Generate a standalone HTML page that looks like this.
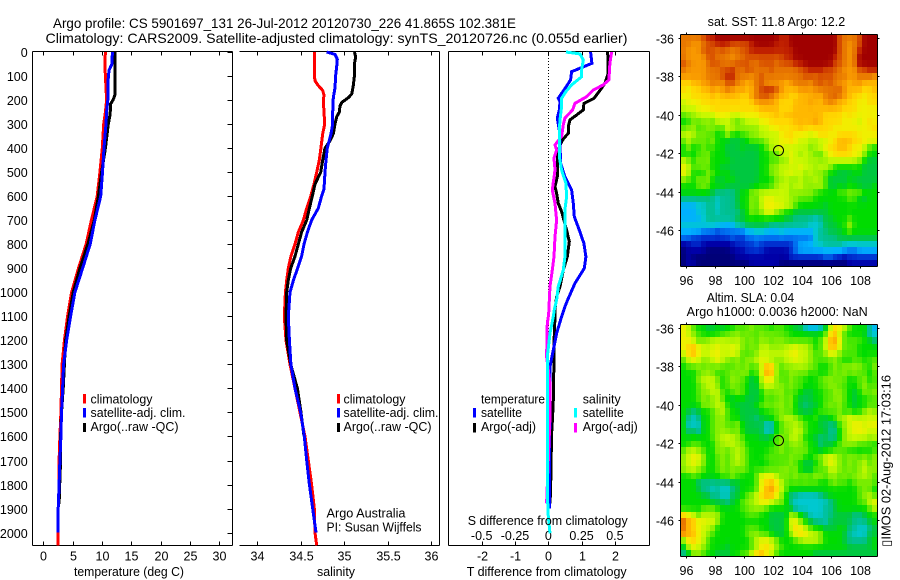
<!DOCTYPE html>
<html lang="en">
<head>
<meta charset="utf-8">
<title>Argo profile</title>
<style>
html,body{margin:0;padding:0;background:#fff;width:900px;height:580px;overflow:hidden}
svg{display:block}
text{font-family:"Liberation Sans",sans-serif;font-size:12.5px;fill:#000}
.title{font-size:14px}
</style>
</head>
<body>
<svg id="chart" width="900" height="580" viewBox="0 0 900 580" xmlns="http://www.w3.org/2000/svg">
<rect width="900" height="580" fill="#fff"/>
<text class="title" x="53" y="28" textLength="463" lengthAdjust="spacingAndGlyphs">Argo profile: CS 5901697_131 26-Jul-2012 20120730_226 41.865S 102.381E</text>
<text class="title" x="45.5" y="43" textLength="582" lengthAdjust="spacingAndGlyphs">Climatology: CARS2009. Satellite-adjusted climatology: synTS_20120726.nc (0.055d earlier)</text>
<g id="panels"></g>
<g id="maps"></g>

<text x="74" y="576" textLength="110" lengthAdjust="spacingAndGlyphs">temperature (deg C)</text>
<text x="317" y="576" textLength="38" lengthAdjust="spacingAndGlyphs">salinity</text>
<text x="466.7" y="576" textLength="160" lengthAdjust="spacingAndGlyphs">T difference from climatology</text>
<text x="467.7" y="525" textLength="160" lengthAdjust="spacingAndGlyphs">S difference from climatology</text>

<g>
<rect x="83" y="394" width="3" height="9.5" fill="#f00"/>
<rect x="83" y="408" width="3" height="9.5" fill="#00f"/>
<rect x="83" y="423" width="3" height="9" fill="#000"/>
<text x="90.5" y="403.5" textLength="62" lengthAdjust="spacingAndGlyphs">climatology</text>
<text x="90.5" y="417" textLength="95" lengthAdjust="spacingAndGlyphs">satellite-adj. clim.</text>
<text x="90.5" y="431" textLength="88" lengthAdjust="spacingAndGlyphs">Argo(..raw -QC)</text>
</g>
<g>
<rect x="337" y="394" width="3" height="9.5" fill="#f00"/>
<rect x="337" y="408" width="3" height="9.5" fill="#00f"/>
<rect x="337" y="423" width="3" height="9" fill="#000"/>
<text x="343.5" y="403.5" textLength="62" lengthAdjust="spacingAndGlyphs">climatology</text>
<text x="343.5" y="417" textLength="95" lengthAdjust="spacingAndGlyphs">satellite-adj. clim.</text>
<text x="343.5" y="431" textLength="88" lengthAdjust="spacingAndGlyphs">Argo(..raw -QC)</text>
</g>
<text x="326.5" y="517.7" textLength="79" lengthAdjust="spacingAndGlyphs">Argo Australia</text>
<text x="326.5" y="531.7" textLength="95" lengthAdjust="spacingAndGlyphs">PI: Susan Wijffels</text>

<text id="sst-title" x="707.7" y="26" textLength="137.5" lengthAdjust="spacingAndGlyphs">sat. SST: 11.8 Argo: 12.2</text>
<text x="706.7" y="302" textLength="87.5" lengthAdjust="spacingAndGlyphs">Altim. SLA: 0.04</text>
<text x="686.7" y="316" textLength="181" lengthAdjust="spacingAndGlyphs">Argo h1000: 0.0036 h2000: NaN</text>
<text transform="translate(890.7 546.7) rotate(-90)" textLength="171.7" lengthAdjust="spacingAndGlyphs" style="font-family:'Liberation Sans','DejaVu Sans',sans-serif">▯IMOS 02-Aug-2012 17:03:16</text>
</svg>

<script>
// ---------- Panel 1: temperature ----------
const climTDepth=[0,50,100,150,200,250,300,400,500,600,700,800,900,1000,1100,1200,1300,1400,1500,1600,1700,1800,1900,2000,2053];
const climT=[10.6,10.5,10.6,10.7,10.8,10.6,10.3,10.06,9.66,9.2,8.2,7.3,6.0,4.83,4.15,3.6,3.2,3.1,3.0,2.84,2.7,2.7,2.55,2.5,2.5];
const satTDepth=[0,50,75,100,150,200,250,300,400,500,600,700,800,900,1000,1100,1200,1300,1400,1500,1600,1700,1800,1900,2000];
const satT=[11.8,11.7,11.25,11.1,11.05,11,10.8,10.7,10.35,10.1,9.8,8.8,8,6.7,5.4,4.66,3.98,3.47,3.3,3.1,3,2.84,2.7,2.55,2.5];
const argoTDepth=[0,150,180,200,215,260,300,400,500,600,700,800,900,1000,1100,1200,1300,1400,1500,1600,1700,1800,1880];
const argoT=[12.2,12.27,12.2,11.9,11.5,11.4,11.1,10.6,9.95,9.4,8.7,7.6,6.25,5.1,4.4,3.8,3.6,3.4,3.1,2.95,2.95,2.8,2.7];

// ---------- Panel 2: salinity ----------
const climSDepth=[0,50,100,120,140,160,180,200,250,300,340,400,450,500,550,600,650,700,750,800,850,900,950,1000,1100,1200,1300,1400,1500,1600,1700,1800,1900,2000,2053];
const climS=[34.66,34.66,34.66,34.667,34.705,34.755,34.77,34.762,34.77,34.778,34.755,34.735,34.716,34.686,34.655,34.617,34.571,34.533,34.475,34.437,34.39,34.36,34.341,34.326,34.314,34.333,34.379,34.437,34.494,34.552,34.59,34.628,34.659,34.667,34.686];
const satSDepth=[0,10,30,60,100,150,190,250,300,340,400,450,500,570,600,650,700,750,800,850,900,950,1000,1100,1200,1300,1400,1500,1600,1700,1800,1900,2000];
const satS=[34.80,34.897,34.923,34.916,34.904,34.897,34.877,34.87,34.87,34.85,34.808,34.793,34.782,34.77,34.743,34.705,34.628,34.579,34.54,34.513,34.467,34.418,34.379,34.36,34.372,34.39,34.437,34.502,34.544,34.571,34.602,34.64,34.678];
const argoSDepth=[0,20,50,100,140,175,190,210,225,250,270,300,340,370,400,450,500,550,600,650,700,750,800,850,900,950,1000,1100,1200,1300,1400,1500,1600];
const argoS=[35.119,35.134,35.119,35.119,35.107,35.088,35.05,34.973,34.954,34.946,34.916,34.897,34.877,34.839,34.782,34.755,34.732,34.667,34.636,34.602,34.571,34.513,34.475,34.437,34.387,34.36,34.341,34.333,34.341,34.387,34.464,34.506,34.54];

// ---------- Panel 3: differences from climatology ----------
const diffSatTDepth=[0,47,82,116,158,192,206,241,275,324,387,463,519,574,630,685,741,796,852,900,963,1032,1060,1101,1171,1240,1309,1400,1500,1700,1900];
const diffSatT=[1.27,1.31,.70,.67,.47,.30,.35,.33,.27,.33,.35,.37,.50,.70,.75,.78,.93,1.07,1.13,1.08,.80,.58,.50,.40,.25,.15,.05,.05,.05,.03,.03];
const diffArgoTDepth=[0,47,89,130,151,193,214,241,262,283,311,338,366,387,429,463,519,560,588,630,664,741,789,852,907,976,1018,1073,1101,1171,1240,1309,1379,1448,1517,1587,1725,1823,1878];
const diffArgoT=[1.78,1.80,1.80,1.70,1.60,1.37,1.07,1.05,.85,.65,.60,.60,.43,.35,.27,.27,.27,.20,.25,.30,.40,.55,.63,.57,.45,.35,.25,.20,.20,.18,.17,.17,.15,.15,.13,.10,.08,.07,.05];
const diffArgoSDepth=[0,47,116,137,158,186,214,241,275,303,351,387,408,442,491,574,630,700,769,852,907,976,1032,1073,1101,1129,1268,1379,1517,1878];
const diffArgoS=[.475,.4625,.455,.4125,.3375,.2875,.2,.1825,.125,.1125,.1,.05,.0625,.0425,.05,.03,.05,.0625,.05,.0425,.03,.0125,.0075,.005,0,-.0075,-.0125,.0125,.0125,-.0125];
const diffSatSDepth=[0,8,33,75,103,137,165,193,227,283,324,387,435,491,546,602,657,741,852,907,976,1032,1073,1101,1171,1268,1448,1725,1864,1933,2003];
const diffSatS=[.1325,.2375,.2625,.25,.25,.175,.1325,.1,.1,.0875,.0825,.0825,.0825,.1,.1325,.1375,.125,.125,.125,.1125,.075,.0625,.045,.0375,.0125,-.0075,-.0075,-.0075,-.005,0,.0125];

// ---------- Tick labels ----------
const depthTicks=[0,100,200,300,400,500,600,700,800,900,1000,1100,1200,1300,1400,1500,1600,1700,1800,1900,2000];
const tempTicks=[0,5,10,15,20,25,30];
const salTicks=[34,34.5,35,35.5,36];
const diffTTicks=[-2,-1,0,1,2];
const diffSTicks=[-0.5,-0.25,0,0.25,0.5];
const lonTicks=[96,98,100,102,104,106,108];
const latTicks=[-36,-38,-40,-42,-44,-46];

// ---------- Maps: colour-level grids, north to south ----------
const profileLon=102.381;
const profileLat=-41.865;
const sstGrid=[
"gggghiijjjjjjjjjjjjjiijjjjjjjjjjhggghjjj",
"ggffghhiiihhhhijjjjiiijjjjjjjjjjjjhgfghjjj".slice(0,30)+"jjhgfghjjj",
"gfffhhhghggghhiiiiiiiiijjjjjjjjjhgfgijjj",
"gffffhhgggfgghhhhhhhhiijjjjjjjjihgfgjjjj",
"hgfffghhggghhhgghhhghhhiijjjjjjhhgfgjjjj",
"gffffggghhigghhggghggggghhiiihhhgfffhhii",
"fffffggghiigggfghgggggggghhghhhgggffgggf",
"ddeeffggfhhgfefghffffefgggfhhghgffeffeee",
"dcddeefefgfefeeghiihfeeeffffgggghfeeedde",
"ccddddedeeeeddfghhgfeeddeeefegghgfeddcdd",
"bcccdddddddddddffffedddeeefeefgfeeddccdd",
"bbbcccddddddddddeeeedddeeeeeeeeeedddcccc",
"9aabbbbcccbbccccdddedeeeeeeeeddddcdccccc",
"88a9aa9bbba9abbbccdddddeeeefeddddcccbcdc",
"9aa99aa99bbaaaaabbccdcddeddddddccccccccd",
"bbb9a9988b8899aabbbbcddcccbcddccddddcccc",
"9b9a99a8877778999abbccdcbbbabbcdeeeddccc",
"8a88a8988777877789bbcbbbbb9bbcddeedccb98",
"88899a88877777778899bbcbabb99bcddddcca88",
"ba8a9a88887777778899aacbbbabaabbbbbba877",
"cb99a9887777777788aabbbbcbbabba888888777",
"cb888a988877777788aabbcbbabaa98877788777",
"a98a9a8778877777888aabaabaaba97777877777",
"8889a98887777778889abbabbaaab97787887778",
"88888876666788aabbbbbbaaaaa9888899a9a888",
"66666665666788a9bccbbbaa9998888888997788",
"44455665666788a9bccccbb98888878888888888",
"44455665666678a9acca98877777778888888888",
"44445666666778888888877666656778889888 8".replace(" ","8"),
"55555555444667777766666666555777 88b88888".replace(" ","").slice(0,40),
"44443332333334455444544444456677789888 88".replace(" ","").slice(0,40),
"3322222222322333333333333335666677777777",
"1122111111122223222222234445566665555555",
"0111100000111222211111234444444444334444",
"0100000000011111111111222222233221222222",
"0110000000000011111100000000000000111111"
];
const slaGrid=[
"cb988778788999a9998998877544 57bdcb988864".replace(" ","").slice(0,40),
"cba9888899aa9a99a9a99988888889deb9888855",
"ccb9aabbbbaba9a9aa9aa99999989befc9999886",
"cdecbbbcbbcba9a9bbaaabbcbba89beec9998888",
"bdecbbccbbcb999abbbbbbccbba99acba9998888",
"9bcbaabcba9a9aabcbaaabbcbba9999a98899899",
"899a9a9a999a9a99beea9aaabaa9889a9aaaa98a",
"8889aaa899a9aa89bfea99aa9a89889a9a9a9989",
"888abbba89aa9877bcca99a998889aa9a9889a89",
"8889abba89a99877abbaa9a9988899aa99889a99",
"8889aabb989a98778a9aa9998778899aa9878a9a",
"8889a9ab987887778999a9a87778899aa9878899",
"8888aaabb88777789a9aa9a8767789a9a9878899",
"8767889ab98877778899a99877789999a8988aba",
"8656889aa98877767889abba98897789abcbbbbb",
"8555889aa99a877775589aaba98877669abccbcc",
"8675889aaa9a877775589aabb98887668abcccbb",
"8888889abbba98887789a9bba88767668abbbbab",
"8899888aabbaa8888889a9aaa98867789aaa9998",
"9bba988aa9aba9888899a99a9a88788999888889",
"abcca889a9aba988899999a9a889abcba9aa9a9a",
"abcba889a9aba988889999a987789bcba9a9ab9a",
"abba9889a9a9a9898999aa9a877999bba9a9abaa",
"8899888899a98889cccb9a9a9a9aa9aa9a9aaba9",
"8886666666778889cdecb9999999889a9989a9a9",
"8887665655678889cefdb9888888888888889a98",
"88887766557789abdeeca8665555678888889ab9".slice(0,40),
"8888887776789aabccbaa86555555567888899bc",
"888899a8888899aaa9888875555556678888889b",
"dcb9bbab88888999887777ba8755566777766788",
"heeccbca88888888887778cca876657777766678",
"gedcbba888888999887778bdcb98877788665567",
"geecba98888889aa998778acdcbba88887655577",
"9ddcb9888888889bccba8889abbba88887666678",
"7bcba9888788889acdca98888888888888777778",
"67aa9887778899bdecb988888887777777777777"
];
const levelColors=["#000078","#0000a8","#0030d0","#0070f0","#00b0ff","#00c8d0","#00c090","#00c840","#00dc00","#50e800","#90f000","#c8f800","#f0f000","#ffd800","#ffb800","#f89800","#e87800","#d85000","#c02000","#a00000"];
const levelKeys="0123456789abcdefghij";

// ---------- Axis functions ----------
function yDepth(d){return 52+0.2403*d;}
function xTemp(v){return 43.3+5.86*v;}
function xSal(v){return 257+87*(v-34);}
function xDiffT(v){return 548.3+33.3*v;}
function xDiffS(v){return 548.3+133.2*v;}
function xLon(l){return 686+14.5*(l-96);}
function yLat(l,top){return top+3+19.27*(-36-l);}

const NS="http://www.w3.org/2000/svg";
const panels=document.getElementById("panels");
const maps=document.getElementById("maps");

function mk(parent,tag,attrs){
  const el=document.createElementNS(NS,tag);
  for(const k in attrs){el.setAttribute(k,attrs[k]);}
  parent.appendChild(el);
  return el;
}
function line(parent,x1,y1,x2,y2){
  const el=mk(parent,"line",{x1:x1,y1:y1,x2:x2,y2:y2,stroke:"#000","stroke-width":1,"shape-rendering":"crispEdges"});
  
  
  return el;
}
function label(parent,x,y,str,anchor){
  const el=mk(parent,"text",{x:x,y:y,"text-anchor":anchor});
  el.textContent=str;
  
  
  return el;
}
function series(parent,depths,values,xf,color){
  const pts=depths.map(function(d,i){return xf(values[i]).toFixed(1)+","+yDepth(d).toFixed(1);}).join(" ");
  const el=mk(parent,"polyline",{points:pts,fill:"none",stroke:color,"stroke-width":3,"shape-rendering":"crispEdges","stroke-linejoin":"miter"});
  
  
  return el;
}

const L1=32.5,R1=232.5,L2=239.5,R2=439.5,L3=448.5,R3=649.5,TOP=51.5,BOT=545.5;

// Panel frames
line(panels,L1,TOP,R1,TOP);
line(panels,L1,BOT,R1,BOT);
line(panels,L1,TOP,L1,BOT);
line(panels,R1,TOP,R1,BOT);
line(panels,L2,TOP,R2,TOP);
line(panels,L2,BOT,R2,BOT);
line(panels,R2,TOP,R2,BOT);
line(panels,L3,TOP,R3,TOP);
line(panels,L3,BOT,R3,BOT);
line(panels,L3,TOP,L3,BOT);
line(panels,R3,TOP,R3,BOT);

// Depth ticks and labels
depthTicks.forEach(function(d){
  const y=Math.round(yDepth(d))+0.5;
  line(panels,R1-5,y,R1,y);
  label(panels,27.7,y+4.5,String(d),"end");
});

// X ticks
function xTicks(arr,xf,fmt,ly){
  arr.forEach(function(v){
    const x=Math.round(xf(v))+0.5;
    line(panels,x,TOP,x,TOP+4);
    line(panels,x,BOT-4,x,BOT);
    label(panels,x,ly,fmt(v),"middle");
  });
}
xTicks(tempTicks,xTemp,String,560.7);
xTicks(salTicks,xSal,String,560.7);
xTicks(diffTTicks,xDiffT,String,560.7);
diffSTicks.forEach(function(v){
  label(panels,xDiffS(v),540,String(v),"middle");
});

// Zero reference line
const zeroLine=mk(panels,"line",{x1:548.5,y1:52,x2:548.5,y2:yDepth(1370),stroke:"#000","stroke-width":1,"stroke-dasharray":"1 2","shape-rendering":"crispEdges"});



// Series
series(panels,climTDepth,climT,xTemp,"#f00");
series(panels,argoTDepth,argoT,xTemp,"#000");
series(panels,satTDepth,satT,xTemp,"#00f");
series(panels,climSDepth,climS,xSal,"#f00");
series(panels,argoSDepth,argoS,xSal,"#000");
series(panels,satSDepth,satS,xSal,"#00f");
series(panels,diffArgoTDepth,diffArgoT,xDiffT,"#000");
series(panels,diffSatTDepth,diffSatT,xDiffT,"#00f");
series(panels,diffArgoSDepth,diffArgoS,xDiffS,"#f0f");
series(panels,diffSatSDepth,diffSatS,xDiffS,"#0ff");

// Diff legend
function legendSwatch(x,y,color){
  const el=mk(panels,"rect",{x:x,y:y,width:3,height:9.5,fill:color});
  
  
}
function legendText(x,y,str,w){
  const el=mk(panels,"text",{x:x,y:y,textLength:w,lengthAdjust:"spacingAndGlyphs"});
  el.textContent=str;
  
  
}
legendText(481,403.5,"temperature",64);
legendText(481,417,"satellite",41);
legendText(481,431,"Argo(-adj)",55);
legendText(582.7,403.5,"salinity",38);
legendText(582.7,417,"satellite",41);
legendText(582.7,431,"Argo(-adj)",55);
legendSwatch(473,408,"#00f");
legendSwatch(473,423,"#000");
legendSwatch(574,408,"#0ff");
legendSwatch(574,423,"#f0f");

// Maps
function levelAt(grid,r,c){
  const rr=Math.max(0,Math.min(grid.length-1,r));
  const row=grid[rr];
  const cc=Math.max(0,Math.min(row.length-1,c));
  return levelKeys.indexOf(row[cc]);
}
function smoothLevel(grid,r,c){
  return (4*levelAt(grid,r,c)+levelAt(grid,r-1,c)+levelAt(grid,r+1,c)+levelAt(grid,r,c-1)+levelAt(grid,r,c+1))/8;
}
function levelColor(v){
  const i=Math.min(levelColors.length-2,Math.floor(v));
  const t=v-i;
  const a=parseInt(levelColors[i].slice(1),16);
  const b=parseInt(levelColors[i+1].slice(1),16);
  const ch=function(s){return Math.round(((a>>s)&255)*(1-t)+((b>>s)&255)*t);};
  return "rgb("+ch(16)+","+ch(8)+","+ch(0)+")";
}
function drawMap(grid,top,bottom){
  const g=mk(maps,"g",{});
  
  
  const left=680.5,right=877.5;
  const lonMin=95.66,lonMax=109.14;
  const latN=-35.84,latS=-47.9;
  const dLon=(lonMax-lonMin)/40;
  const dLat=(latN-latS)/grid.length;
  grid.forEach(function(row,r){
    for(let c=0;c<40;c++){
      const x0=Math.round(xLon(lonMin+c*dLon));
      const x1=Math.round(xLon(lonMin+(c+1)*dLon));
      const y0=Math.round(yLat(latN-r*dLat,top));
      const y1=Math.round(yLat(latN-(r+1)*dLat,top));
      const cell=mk(g,"rect",{x:x0,y:y0,width:x1-x0,height:y1-y0,fill:levelColor(smoothLevel(grid,r,c)),"shape-rendering":"crispEdges"});
      
      
    }
  });
  line(g,left,top,right,top);
  line(g,left,bottom,right,bottom);
  line(g,left,top,left,bottom);
  line(g,right,top,right,bottom);
  lonTicks.forEach(function(v){
    const x=Math.round(xLon(v))+0.5;
    line(g,x,top-2,x,top);
    line(g,x,bottom,x,bottom+2);
    label(g,x,bottom+18.5,String(v),"middle");
  });
  latTicks.forEach(function(v){
    const y=Math.round(yLat(v,top))+0.5;
    line(g,left-2,y,left,y);
    line(g,right,y,right+2,y);
    label(g,674,y+5,String(v),"end");
  });
  const marker=mk(g,"circle",{cx:xLon(profileLon),cy:yLat(profileLat,top),r:5,fill:"none",stroke:"#000","stroke-width":1});
  
  
}
drawMap(sstGrid,34.5,266.5);
drawMap(slaGrid,324.5,556.5);
</script>
</body>
</html>
